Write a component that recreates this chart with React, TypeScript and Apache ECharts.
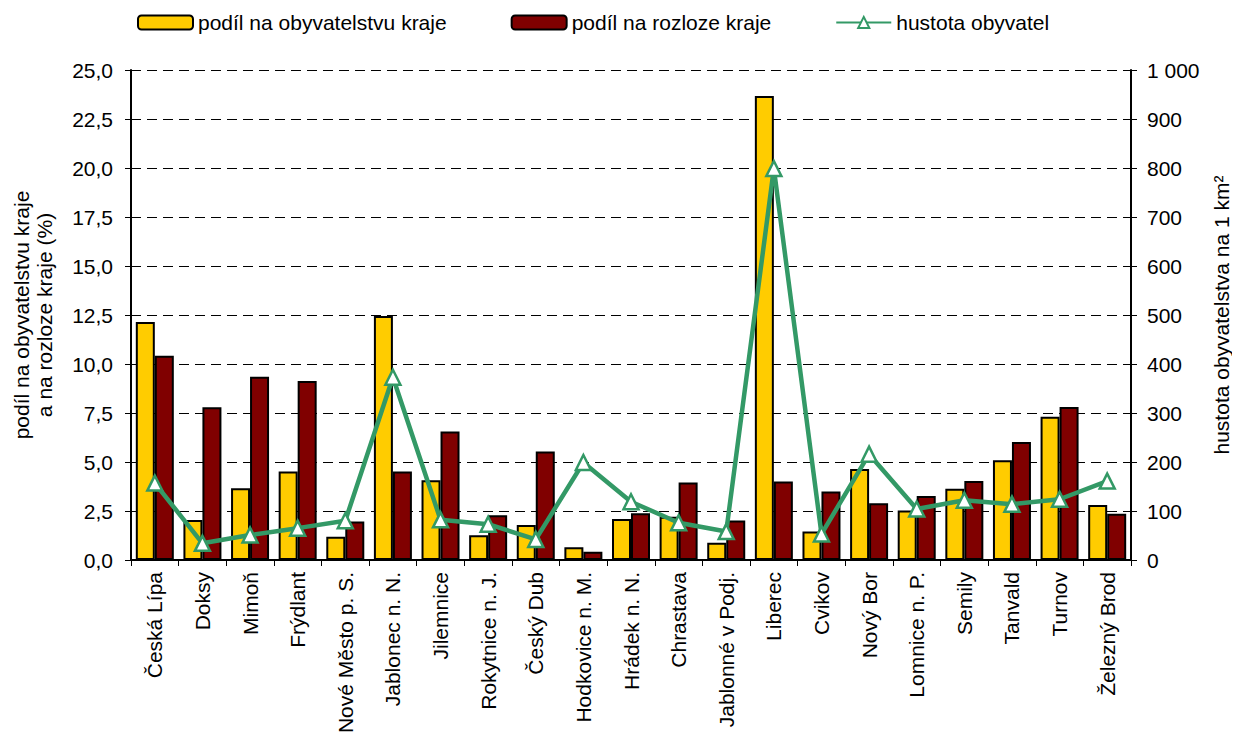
import React, { useEffect, useRef } from "react";
import * as echarts from "echarts";

const categories = [
  "Česká Lípa", "Doksy", "Mimoň", "Frýdlant", "Nové Město p. S.", "Jablonec n. N.",
  "Jilemnice", "Rokytnice n. J.", "Český Dub", "Hodkovice n. M.", "Hrádek n. N.",
  "Chrastava", "Jablonné v Podj.", "Liberec", "Cvikov", "Nový Bor", "Lomnice n. P.",
  "Semily", "Tanvald", "Turnov", "Železný Brod",
];
const popShare = [12.14, 2.04, 3.66, 4.52, 1.19, 12.45, 4.07, 1.26, 1.79, 0.65, 2.09, 2.21, 0.88, 23.67, 1.45, 4.64, 2.52, 3.64, 5.09, 7.31, 2.81];
const areaShare = [10.42, 7.79, 9.35, 9.13, 1.96, 4.51, 6.55, 2.28, 5.53, 0.42, 2.38, 3.95, 2.02, 4.0, 3.49, 2.89, 3.26, 4.03, 6.02, 7.81, 2.36];
const density = [157, 34, 51, 65, 80, 373, 82, 73, 42, 199, 119, 76, 58, 799, 53, 216, 104, 122, 114, 124, 161];

const seriesNames = ["podíl na obyvatelstvu kraje", "podíl na rozloze kraje", "hustota obyvatel"];
const leftAxisName = "podíl na obyvatelstvu kraje\na na rozloze kraje (%)";
const rightAxisName = "hustota obyvatelstva na 1 km²";

const FONT = "Liberation Sans, Arial, sans-serif";
const FS = 21;

export default function App() {
  const ref = useRef<HTMLDivElement>(null);
  useEffect(() => {
    if (!ref.current) return;
    const chart = echarts.init(ref.current, null, { renderer: "svg" });
    chart.setOption({
      animation: false,
      backgroundColor: "#ffffff",
      textStyle: { fontFamily: FONT, color: "#000" },
      legend: {
        left: 132,
        top: 7,
        itemWidth: 55,
        itemHeight: 14,
        itemGap: 64,
        textStyle: { fontFamily: FONT, fontSize: FS, color: "#000" },
        data: seriesNames,
      },
      grid: { left: 131, right: 109, top: 70, bottom: 180, containLabel: false, outerBoundsMode: "none" },
      xAxis: {
        type: "category",
        data: categories,
        boundaryGap: true,
        axisLine: { lineStyle: { color: "#000", width: 2 } },
        axisTick: { show: true, length: 6, lineStyle: { color: "#000", width: 1 } },
        axisLabel: {
          rotate: 90,
          margin: 12,
          fontSize: FS,
          fontFamily: FONT,
          color: "#000",
          interval: 0,
        },
        splitLine: { show: false },
      },
      yAxis: [
        {
          type: "value",
          min: 0,
          max: 25,
          interval: 2.5,
          position: "left",
          name: leftAxisName,
          nameLocation: "middle",
          nameGap: 75,
          nameTextStyle: { fontFamily: FONT, fontSize: FS, color: "#000", lineHeight: 23 },
          axisLine: { show: true, lineStyle: { color: "#000", width: 2 } },
          axisTick: { show: true, length: 6, lineStyle: { color: "#000" } },
          axisLabel: {
            fontSize: FS,
            fontFamily: FONT,
            color: "#000",
            margin: 18,
            formatter: (v: number) => v.toFixed(1).replace(".", ","),
          },
          splitLine: { show: true, lineStyle: { color: "#000", width: 1, type: [10, 6] } },
        },
        {
          type: "value",
          min: 0,
          max: 1000,
          interval: 100,
          position: "right",
          name: rightAxisName,
          nameLocation: "middle",
          nameRotate: 90,
          nameGap: 80,
          nameTextStyle: { fontFamily: FONT, fontSize: FS, color: "#000" },
          axisLine: { show: true, lineStyle: { color: "#000", width: 2 } },
          axisTick: { show: true, length: 6, lineStyle: { color: "#000" } },
          axisLabel: {
            fontSize: FS,
            fontFamily: FONT,
            color: "#000",
            margin: 16,
            formatter: (v: number) => (v >= 1000 ? String(v).replace(/\B(?=(\d{3})+(?!\d))/g, " ") : String(v)),
          },
          splitLine: { show: false },
        },
      ],
      series: [
        {
          name: seriesNames[0],
          type: "bar",
          yAxisIndex: 0,
          data: popShare,
          barWidth: 19,
          barGap: "0%",
          itemStyle: { color: "#FFCC00", borderColor: "#000", borderWidth: 2 },
        },
        {
          name: seriesNames[1],
          type: "bar",
          yAxisIndex: 0,
          data: areaShare,
          barWidth: 19,
          barGap: "0%",
          itemStyle: { color: "#800000", borderColor: "#000", borderWidth: 2 },
        },
        {
          name: seriesNames[2],
          type: "line",
          yAxisIndex: 1,
          data: density,
          symbol: "triangle",
          symbolSize: 15,
          showAllSymbol: true,
          lineStyle: { color: "#339966", width: 4.5 },
          itemStyle: { color: "#ffffff", borderColor: "#339966", borderWidth: 2.5 },
          z: 5,
        },
      ],
    });
    return () => chart.dispose();
  }, []);
  return <div ref={ref} style={{ width: 1240, height: 740, margin: -8 }} />;
}
